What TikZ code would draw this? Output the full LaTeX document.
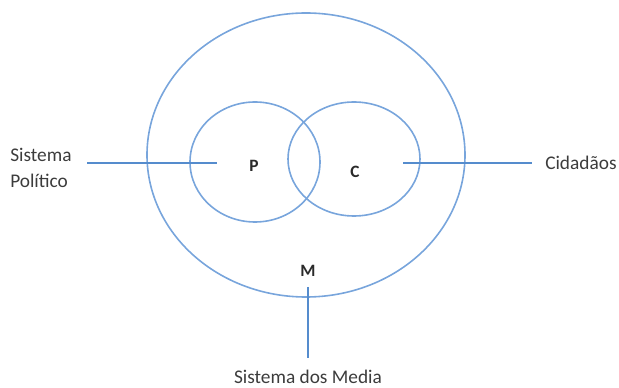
\documentclass[tikz,border=0pt]{standalone}
\usepackage{xcolor}
\usepackage{fontspec}
\setmainfont{Carlito}
\usepackage{tikz}

\definecolor{ringblue}{RGB}{120,165,220}
\definecolor{lineblue}{RGB}{85,140,205}
\definecolor{txtgray}{RGB}{60,60,60}

\tikzset{
  ring/.style={draw=ringblue, line width=1.2},
  stick/.style={draw=lineblue, line width=2.2},
  lbl/.style={inner sep=0.75pt, text=txtgray, font=\fontsize{14.5}{19.5}\selectfont},
  mark lbl/.style={inner sep=0.75pt, text=txtgray!70!black, font=\fontsize{13}{15}\selectfont\bfseries}
}

\begin{document}
\begin{tikzpicture}[x=0.75pt,y=0.75pt,yscale=-1,xscale=1]
\useasboundingbox (0,0) rectangle (619,388);

%Shape: Ellipse [media]
\draw [ring] (306,155) ellipse [x radius=159, y radius=142];
%Shape: Ellipse [politico]
\draw [ring] (255,162) ellipse [x radius=65, y radius=60];
%Shape: Ellipse [cidadaos]
\draw [ring] (354,159) ellipse [x radius=66, y radius=57];

% Text Node
\node [mark lbl] (P) at (254,166) {P};
% Text Node
\node [mark lbl] (C) at (355,172) {C};
% Text Node
\node [mark lbl] (M) at (308,271) {M};

% Text Node
\node [lbl, anchor=west, align=left] (sispol) at (9,168) {Sistema\\Político};
% Text Node
\node [lbl, anchor=west] (cid) at (544,163) {Cidadãos};
% Text Node
\node [lbl] (sismed) at (308,377) {Sistema dos Media};

% end points of the lines
\coordinate (polA) at (87,163);
\coordinate (polB) at (217,163);
\coordinate (cidA) at (403,163);
\coordinate (cidB) at (532,163);
\coordinate (medA) at (308,287);
\coordinate (medB) at (308,358);

%Straight Lines
\draw [stick] (polA) -- (polB);
%Straight Lines
\draw [stick] (cidA) -- (cidB);
%Straight Lines
\draw [stick] (medA) -- (medB);

\end{tikzpicture}
\end{document}
